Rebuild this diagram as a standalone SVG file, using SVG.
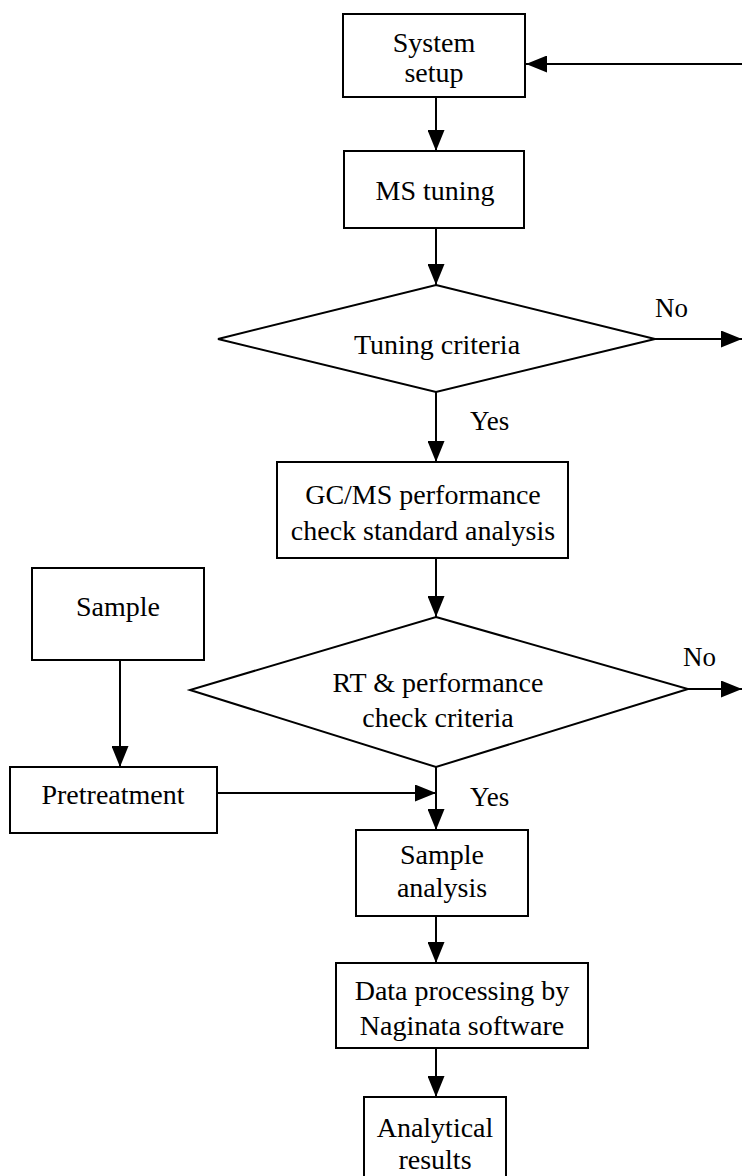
<svg xmlns="http://www.w3.org/2000/svg" width="742" height="1176" viewBox="0 0 742 1176">
<style>
.box{fill:#fff;stroke:#000;stroke-width:2}
.t{font-family:"Liberation Serif","Times New Roman",serif;font-size:28px;fill:#000;text-anchor:middle}
.lbl{font-family:"Liberation Serif","Times New Roman",serif;font-size:27px;fill:#000}
.c{stroke:#000;stroke-width:2;fill:none;marker-end:url(#ah)}
</style>
<defs>
<marker id="ah" viewBox="0 0 10 10" refX="10" refY="5" markerUnits="userSpaceOnUse" markerWidth="21" markerHeight="17" orient="auto" preserveAspectRatio="none">
<path d="M0,0 L10,5 L0,10 z" fill="#000"/>
</marker>
</defs>
<rect width="742" height="1176" fill="#fff"/>
<g id="connectors">
<line class="c" x1="742" y1="64" x2="526" y2="64"/>
<line class="c" x1="436" y1="97" x2="436" y2="151"/>
<line class="c" x1="436" y1="228" x2="436" y2="285"/>
<line class="c" x1="655" y1="339" x2="742" y2="339"/>
<line class="c" x1="436" y1="392" x2="436" y2="462"/>
<line class="c" x1="436" y1="558" x2="436" y2="617"/>
<line class="c" x1="688" y1="689" x2="742" y2="689"/>
<line class="c" x1="120" y1="660" x2="120" y2="767"/>
<line class="c" x1="217" y1="793" x2="436" y2="793"/>
<line class="c" x1="436" y1="767" x2="436" y2="830"/>
<line class="c" x1="436" y1="916" x2="436" y2="963"/>
<line class="c" x1="436" y1="1048" x2="436" y2="1097"/>
<text class="lbl" x="655" y="317">No</text>
<text class="lbl" x="470" y="430">Yes</text>
<text class="lbl" x="683" y="666">No</text>
<text class="lbl" x="470" y="806">Yes</text>
</g>
<g id="system-setup">
<rect class="box" x="343" y="14" width="182" height="83"/>
<text class="t" x="434" y="52">System</text>
<text class="t" x="434" y="82">setup</text>
</g>
<g id="ms-tuning">
<rect class="box" x="344" y="151" width="180" height="77"/>
<text class="t" x="435" y="200">MS tuning</text>
</g>
<g id="tuning-criteria">
<polygon class="box" points="436,285 655,339 436,392 218,339"/>
<text class="t" x="437" y="354">Tuning criteria</text>
</g>
<g id="gcms-check">
<rect class="box" x="277" y="462" width="291" height="96"/>
<text class="t" x="423" y="504">GC/MS performance</text>
<text class="t" x="423" y="540">check standard analysis</text>
</g>
<g id="sample">
<rect class="box" x="32" y="568" width="172" height="92"/>
<text class="t" x="118" y="616">Sample</text>
</g>
<g id="rt-criteria">
<polygon class="box" points="436,617 688,689 436,767 190,690"/>
<text class="t" x="438" y="692">RT &amp; performance</text>
<text class="t" x="438" y="727">check criteria</text>
</g>
<g id="pretreatment">
<rect class="box" x="10" y="767" width="207" height="66"/>
<text class="t" x="113" y="804">Pretreatment</text>
</g>
<g id="sample-analysis">
<rect class="box" x="356" y="830" width="172" height="86"/>
<text class="t" x="442" y="864">Sample</text>
<text class="t" x="442" y="897">analysis</text>
</g>
<g id="data-processing">
<rect class="box" x="336" y="963" width="252" height="85"/>
<text class="t" x="462" y="1000">Data processing by</text>
<text class="t" x="462" y="1035">Naginata software</text>
</g>
<g id="analytical-results">
<rect class="box" x="364" y="1097" width="142" height="90"/>
<text class="t" x="435" y="1137">Analytical</text>
<text class="t" x="435" y="1169">results</text>
</g>
</svg>
